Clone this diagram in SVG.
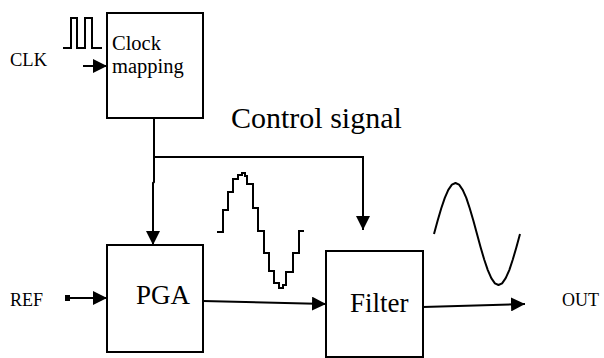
<svg xmlns="http://www.w3.org/2000/svg" width="604" height="358" viewBox="0 0 604 358">
<style>
.box{fill:#fff;stroke:#000;stroke-width:2}
.ln{fill:none;stroke:#000;stroke-width:2}
.wave{fill:none;stroke:#000;stroke-width:2;stroke-linejoin:miter}
</style>
<defs>
<marker id="ah" markerUnits="userSpaceOnUse" markerWidth="14" markerHeight="14" refX="14" refY="7" orient="auto">
<path d="M0,0 L14,7 L0,14 z" fill="#000"/>
</marker>
</defs>
<rect width="604" height="358" fill="#fff"/>

<g id="connectors">
<line class="ln" x1="83" y1="66" x2="107" y2="66" marker-end="url(#ah)"/>
<polyline class="ln" points="154,118 154,182 153,183 153,245" marker-end="url(#ah)"/>
<polyline class="ln" points="154,157 363,157 363,230" marker-end="url(#ah)"/>
<rect x="65" y="295" width="5" height="6" fill="#000"/>
<line class="ln" x1="68" y1="298" x2="107" y2="298" marker-end="url(#ah)"/>
<line class="ln" x1="203" y1="301" x2="326" y2="304" marker-end="url(#ah)"/>
<line class="ln" x1="423" y1="307" x2="525" y2="304" marker-end="url(#ah)"/>
</g>

<g id="clock-pulse">
<path class="wave" d="M63,48 H71 V18 H77 V48 H85 V18 H92 V48 H102"/>
</g>
<text x="10" y="66" font-size="18.5" font-family="Liberation Serif">CLK</text>

<g id="clock-mapping">
<rect class="box" x="107" y="13" width="96" height="105"/>
<text x="112" y="50" font-size="20.5" font-family="Liberation Serif">Clock</text>
<text x="112" y="73" font-size="20.5" font-family="Liberation Serif">mapping</text>
</g>

<text x="231" y="128" font-size="30" font-family="Liberation Serif">Control signal</text>

<text x="10" y="306" font-size="18" font-family="Liberation Serif">REF</text>

<g id="pga">
<rect class="box" x="107" y="245" width="96" height="107"/>
<text x="136" y="304" font-size="27" font-family="Liberation Serif">PGA</text>
</g>

<g id="stair-wave">
<path class="wave" d="M217,232 H223 V210 H228 V192 H233 V179 H238 V175 H242 V173 H245 V176 H247 V184 H253 V208 H258 V231 H264 V253 H269 V271 H274 V283 H279 V288 H283 V285 H286 V272 H293 V253 H299 V231 H304"/>
</g>

<g id="filter">
<rect class="box" x="326" y="251" width="97" height="106"/>
<text x="350" y="312" font-size="27" font-family="Liberation Serif">Filter</text>
</g>

<g id="sine-wave">
<polyline class="wave" style="stroke-linejoin:round" points="434,234 437.6,220.8 441.2,208.5 444.8,197.9 448.3,189.8 451.9,184.7 455.5,183 459.1,184.7 462.7,189.8 466.3,197.9 469.8,208.5 473.4,220.8 477,234 480.6,247.2 484.2,259.5 487.8,270.1 491.3,278.2 494.9,283.3 498.5,285 502.1,283.3 505.7,278.2 509.3,270.1 512.8,259.5 516.4,247.2 520,234"/>
</g>

<text x="562" y="306" font-size="18" font-family="Liberation Serif">OUT</text>
</svg>
